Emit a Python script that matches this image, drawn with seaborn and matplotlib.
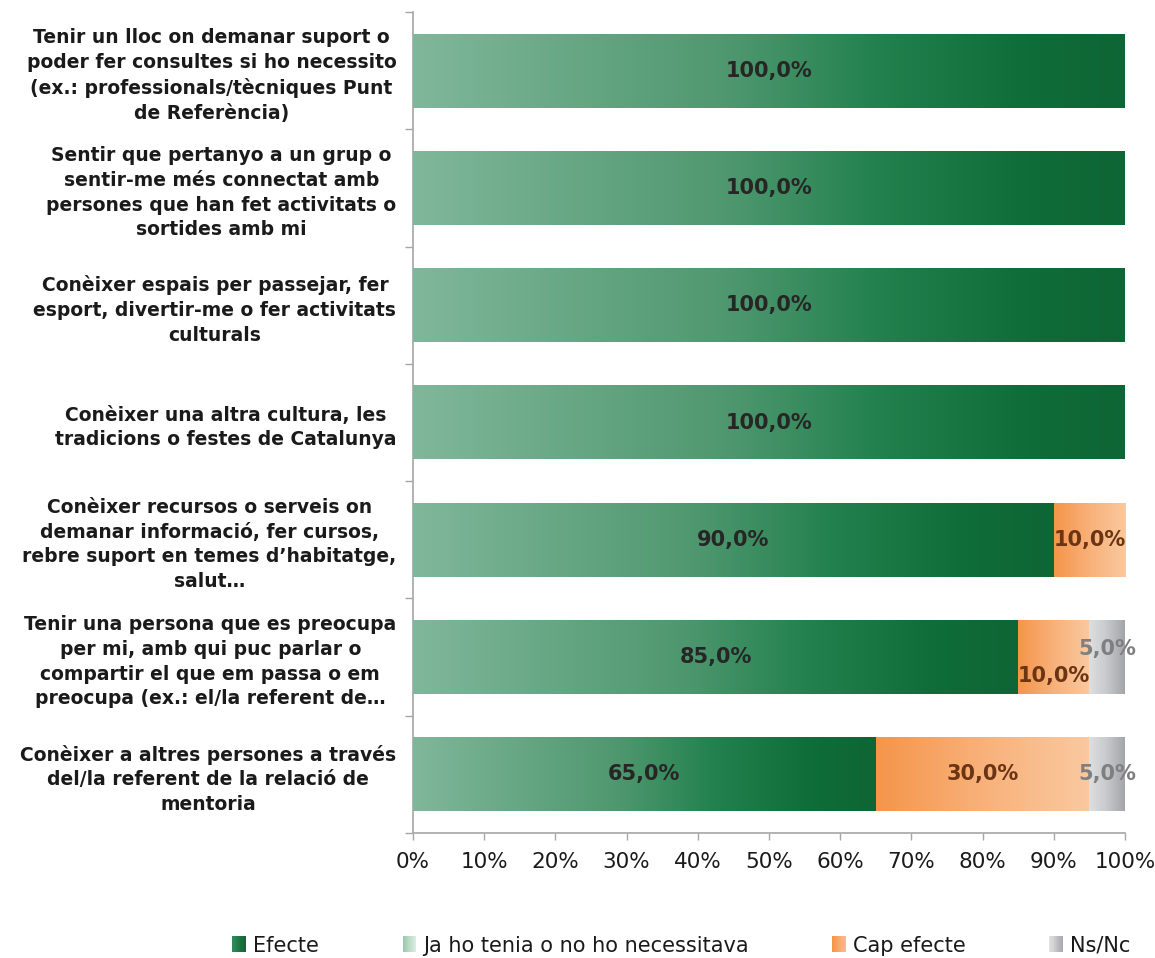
import numpy as np
import pandas as pd
import matplotlib
matplotlib.use("Agg")
import matplotlib.pyplot as plt
import seaborn as sns
from matplotlib.colors import LinearSegmentedColormap
from matplotlib.legend_handler import HandlerBase
from matplotlib.patches import Rectangle

# ---------------- data ----------------
categories = [
    "Tenir un lloc on demanar suport o\npoder fer consultes si ho necessito\n(ex.: professionals/tècniques Punt\nde Referència)",
    "Sentir que pertanyo a un grup o\nsentir-me més connectat amb\npersones que han fet activitats o\nsortides amb mi",
    "Conèixer espais per passejar, fer\nesport, divertir-me o fer activitats\nculturals",
    "Conèixer una altra cultura, les\ntradicions o festes de Catalunya",
    "Conèixer recursos o serveis on\ndemanar informació, fer cursos,\nrebre suport en temes d’habitatge,\nsalut…",
    "Tenir una persona que es preocupa\nper mi, amb qui puc parlar o\ncompartir el que em passa o em\npreocupa (ex.: el/la referent de…",
    "Conèixer a altres persones a través\ndel/la referent de la relació de\nmentoria",
]
efecte = [100, 100, 100, 100, 90, 85, 65]
ja_ho_tenia = [0, 0, 0, 0, 0, 0, 0]
cap_efecte = [0, 0, 0, 0, 10, 10, 30]
ns_nc = [0, 0, 0, 0, 0, 5, 5]
series_names = ["Efecte", "Ja ho tenia o no ho necessitava", "Cap efecte", "Ns/Nc"]
x_ticks = [0, 10, 20, 30, 40, 50, 60, 70, 80, 90, 100]
x_tick_labels = ["0%", "10%", "20%", "30%", "40%", "50%", "60%", "70%", "80%", "90%", "100%"]

# ---------------- styles ----------------
bar_cmaps = [
    LinearSegmentedColormap.from_list("g", [(0, "#80b79b"), (0.45, "#4e976e"), (0.65, "#23814f"),
                                             (0.85, "#0f6e3a"), (1, "#0e6535")]),
    LinearSegmentedColormap.from_list("lg", ["#9cc8ae", "#dcece2"]),
    LinearSegmentedColormap.from_list("o", ["#f5954a", "#f8b17a", "#fac9a0"]),
    LinearSegmentedColormap.from_list("gr", ["#dedfe1", "#c8c9cc", "#a4a5a9"]),
]
legend_cmaps = [
    LinearSegmentedColormap.from_list("lg0", ["#2f8a58", "#0e6535"]),
    LinearSegmentedColormap.from_list("lg1", ["#9cc8ae", "#dcece2"]),
    LinearSegmentedColormap.from_list("lg2", ["#f5954a", "#fbbd88"]),
    LinearSegmentedColormap.from_list("lg3", ["#e0e1e3", "#a9aaad"]),
]
label_colors = ["#262626", "#262626", "#6b3413", "#7f7f7f"]
label_nudge = {(5, 2): 0.16, (5, 3): -0.07}
axis_gray = "#a6a6a6"

sns.set_theme(style="white")
plt.rcParams["font.family"] = ["DejaVu Sans"]

fig = plt.figure(figsize=(11.55, 9.58), dpi=100)
ax = fig.add_axes([413 / 1155, 1 - 833 / 958, (1125 - 413) / 1155, (833 - 12) / 958])

series = [efecte, ja_ho_tenia, cap_efecte, ns_nc]
vals = np.array(series, dtype=float)
cum = np.cumsum(vals, axis=0)

layer_patches = {}
for k in reversed(range(len(series))):
    n0 = len(ax.patches)
    sns.barplot(x=cum[k], y=categories, orient="h", color="white", width=0.63,
                linewidth=0, ax=ax)
    layer_patches[k] = ax.patches[n0:]

grad = np.linspace(0, 1, 256).reshape(1, -1)
for k in range(len(series)):
    for p in layer_patches[k]:
        h = p.get_height()
        y0 = p.get_y()
        i = int(round(y0 + h / 2))
        v = vals[k][i]
        if v <= 0:
            continue
        x1 = cum[k][i]
        x0 = x1 - v
        ax.imshow(grad, extent=[x0, x1, y0 + h, y0], aspect="auto", cmap=bar_cmaps[k],
                  zorder=3, interpolation="bilinear")
        ax.text((x0 + x1) / 2, i + label_nudge.get((i, k), 0),
                f"{v:.1f}%".replace(".", ","), ha="center", va="center",
                fontsize=15, fontweight="bold", color=label_colors[k], zorder=5,
                clip_on=False)

ax.set_xlim(0, 100)
ax.set_ylim(len(categories) - 0.5, -0.5)
ax.set_xticks(x_ticks)
ax.set_xticklabels(x_tick_labels)
ax.set_xlabel("")
ax.set_ylabel("")
ax.tick_params(axis="x", bottom=True, direction="out", length=5, width=1,
               color=axis_gray, pad=9, labelsize=15.5, labelcolor="#1a1a1a")

ax.set_yticks(range(len(categories)))
ax.set_yticklabels(categories, fontsize=13.5, fontweight="bold", color="#1a1a1a",
                   multialignment="center", linespacing=1.38)
ax.set_yticks(np.arange(-0.5, len(categories), 1), minor=True)
ax.tick_params(axis="y", which="major", left=False, length=0, pad=12)
ax.tick_params(axis="y", which="minor", left=True, length=6, width=1, color=axis_gray)

for s in ["top", "right"]:
    ax.spines[s].set_visible(False)
for s in ["left", "bottom"]:
    ax.spines[s].set_color(axis_gray)
    ax.spines[s].set_linewidth(1.2)
ax.grid(False)


class GradHandler(HandlerBase):
    def __init__(self, cmap):
        super().__init__()
        self.cmap = cmap

    def create_artists(self, legend, orig_handle, xdescent, ydescent, width, height,
                       fontsize, trans):
        n = 12
        arts = []
        for j in range(n):
            r = Rectangle((-xdescent + width * j / n, -ydescent), width / n * 1.05, height,
                          facecolor=self.cmap(j / (n - 1)), edgecolor="none", transform=trans)
            arts.append(r)
        return arts


handles = [Rectangle((0, 0), 1, 1) for _ in series_names]
hmap = {h: GradHandler(c) for h, c in zip(handles, legend_cmaps)}
fig.legend(handles, series_names, handler_map=hmap, ncol=4, loc="center",
           bbox_to_anchor=(0.59, 0.013), frameon=False,
           prop={"family": ["DejaVu Sans"], "size": 15},
           handlelength=0.65, handleheight=0.8, handletextpad=0.35, columnspacing=4.0,
           labelcolor="#1a1a1a")

fig.savefig("out.png", dpi=100)
